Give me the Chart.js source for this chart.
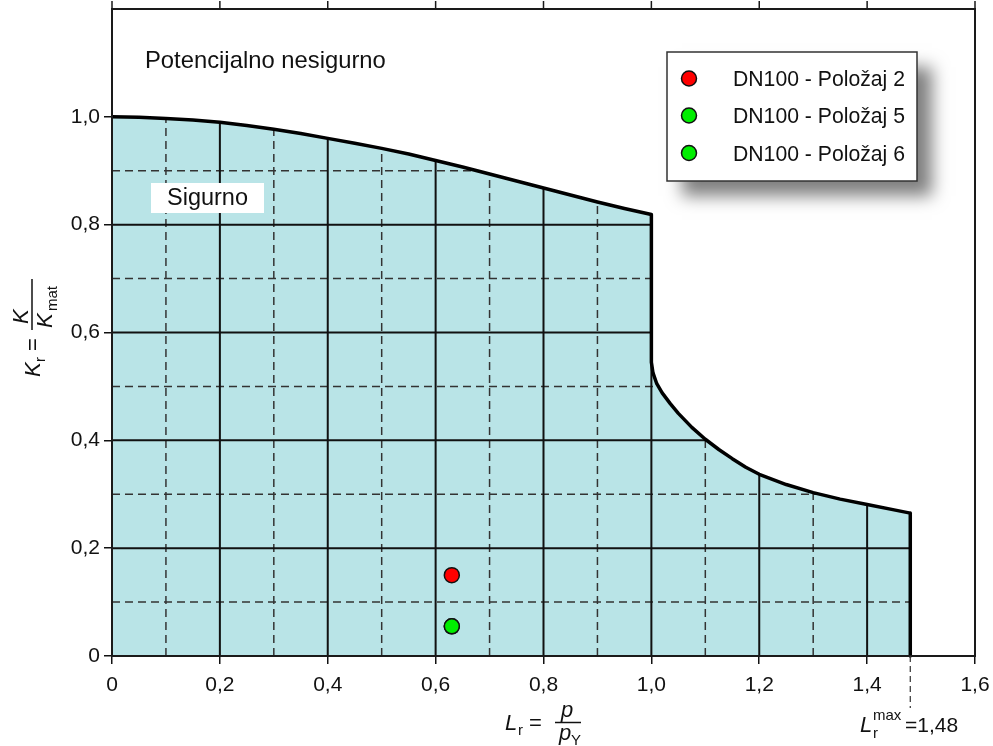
<!DOCTYPE html>
<html>
<head>
<meta charset="utf-8">
<script src="https://cdn.jsdelivr.net/npm/chart.js@4/dist/chart.umd.min.js"></script>
<style>
  html, body { margin: 0; padding: 0; background: #ffffff; }
  #wrap { width: 993px; height: 746px; position: relative; }
</style>
</head>
<body>
<div id="wrap"><canvas id="c" width="993" height="746"></canvas></div>
<script>
// ---- Data ----
const curveLr = [0, 0.05, 0.1, 0.15, 0.2, 0.25, 0.3, 0.35, 0.4, 0.45, 0.5, 0.55, 0.6, 0.65, 0.7, 0.75, 0.8, 0.85, 0.9, 0.95, 1.0,
                 1.0, 1.003, 1.01, 1.02, 1.035, 1.05, 1.075, 1.1, 1.125, 1.15, 1.175, 1.2, 1.25, 1.3, 1.35, 1.4, 1.45, 1.48, 1.48];
const curveKr = [1.0, 0.999, 0.997, 0.994, 0.990, 0.984, 0.977, 0.969, 0.960, 0.951, 0.9415, 0.931, 0.919, 0.907, 0.894, 0.881, 0.868, 0.855, 0.842, 0.830, 0.819,
                 0.545, 0.525, 0.505, 0.488, 0.468, 0.450, 0.424, 0.402, 0.383, 0.366, 0.350, 0.337, 0.318, 0.303, 0.291, 0.281, 0.271, 0.265, 0];

const seriesNames = ['DN100 - Položaj 2', 'DN100 - Položaj 5', 'DN100 - Položaj 6'];
const seriesLr = [0.63, 0.63, 0.63];
const seriesKr = [0.15, 0.055, 0.055];
const seriesColors = ['#ff0000', '#00ee00', '#00ee00'];

const xTicks = [0, 0.2, 0.4, 0.6, 0.8, 1.0, 1.2, 1.4, 1.6];
const yTicks = [0, 0.2, 0.4, 0.6, 0.8, 1.0];
const majorLr = [0.2, 0.4, 0.6, 0.8, 1.0, 1.2, 1.4];
const minorLr = [0.1, 0.3, 0.5, 0.7, 0.9, 1.1, 1.3, 1.5];
const majorKr = [0.2, 0.4, 0.6, 0.8, 1.0];
const minorKr = [0.1, 0.3, 0.5, 0.7, 0.9];
const LrMax = 1.48;

const FONT = "'Liberation Sans', Arial, Helvetica, sans-serif";
const fillColor = '#b9e4e7';
const fmt = (v, d = 1) => (Math.abs(v) < 1e-9 ? '0' : v.toFixed(d).replace('.', ','));

const fadPlugin = {
  id: 'fad',
  beforeDatasetsDraw(chart) {
    const { ctx, scales: { x, y }, chartArea: a } = chart;
    const pts = chart.getDatasetMeta(0).data;
    ctx.save();
    ctx.beginPath();
    ctx.moveTo(x.getPixelForValue(0), y.getPixelForValue(0));
    pts.forEach(p => ctx.lineTo(p.x, p.y));
    ctx.closePath();
    ctx.fillStyle = fillColor;
    ctx.fill();
    ctx.clip();
    ctx.strokeStyle = '#333';
    ctx.lineWidth = 1.5;
    ctx.setLineDash([8, 5]);
    minorLr.forEach(v => { const px = x.getPixelForValue(v); ctx.beginPath(); ctx.moveTo(px, a.bottom); ctx.lineTo(px, a.top); ctx.stroke(); });
    minorKr.forEach(v => { const py = y.getPixelForValue(v); ctx.beginPath(); ctx.moveTo(a.left, py); ctx.lineTo(a.right, py); ctx.stroke(); });
    ctx.setLineDash([]);
    ctx.strokeStyle = '#111';
    ctx.lineWidth = 2;
    majorLr.forEach(v => { const px = x.getPixelForValue(v); ctx.beginPath(); ctx.moveTo(px, a.top); ctx.lineTo(px, a.bottom); ctx.stroke(); });
    majorKr.forEach(v => { const py = y.getPixelForValue(v); ctx.beginPath(); ctx.moveTo(a.left, py); ctx.lineTo(a.right, py); ctx.stroke(); });
    ctx.restore();
  },
  afterDraw(chart) {
    const { ctx, scales: { x, y }, chartArea: a } = chart;
    ctx.save();
    ctx.strokeStyle = '#1a1a1a';
    ctx.lineWidth = 2;
    ctx.strokeRect(a.left, a.top, a.right - a.left, a.bottom - a.top);
    ctx.lineWidth = 1.5;
    xTicks.forEach(v => { const px = x.getPixelForValue(v); ctx.beginPath(); ctx.moveTo(px, a.top); ctx.lineTo(px, a.top - 8); ctx.stroke(); });

    ctx.fillStyle = '#111';
    ctx.textBaseline = 'alphabetic';
    ctx.textAlign = 'left';
    ctx.font = '23.8px ' + FONT;
    ctx.fillText('Potencijalno nesigurno', 145, 68);
    ctx.fillStyle = '#ffffff';
    ctx.fillRect(151, 183, 113, 30);
    ctx.fillStyle = '#111';
    ctx.font = '23.5px ' + FONT;
    ctx.fillText('Sigurno', 167, 205);

    ctx.save();
    ctx.shadowColor = 'rgba(0,0,0,0.5)';
    ctx.shadowBlur = 16;
    ctx.shadowOffsetX = 15;
    ctx.shadowOffsetY = 15;
    ctx.fillStyle = '#ffffff';
    ctx.fillRect(667, 52, 250, 129);
    ctx.restore();
    ctx.strokeStyle = '#333';
    ctx.lineWidth = 1.5;
    ctx.strokeRect(667, 52, 250, 129);
    const rowY = [78.5, 115.5, 153];
    chart.data.datasets.slice(1).forEach((ds, i) => {
      ctx.beginPath();
      ctx.arc(689, rowY[i], 7.5, 0, Math.PI * 2);
      ctx.fillStyle = ds.backgroundColor;
      ctx.fill();
      ctx.lineWidth = 1.5;
      ctx.strokeStyle = '#111';
      ctx.stroke();
      ctx.fillStyle = '#111';
      ctx.font = '21.2px ' + FONT;
      ctx.fillText(ds.label, 733, rowY[i] + 7.7);
    });

    // x-axis title
    ctx.fillStyle = '#111';
    ctx.font = 'italic 22px ' + FONT;
    ctx.fillText('L', 505, 730);
    ctx.font = '15px ' + FONT;
    ctx.fillText('r', 518, 735);
    ctx.font = '22px ' + FONT;
    ctx.fillText('=', 529, 730);
    ctx.lineWidth = 1.5;
    ctx.strokeStyle = '#111';
    ctx.beginPath(); ctx.moveTo(555, 722.5); ctx.lineTo(581, 722.5); ctx.stroke();
    ctx.font = 'italic 22px ' + FONT;
    ctx.textAlign = 'center';
    ctx.fillText('p', 567, 717);
    ctx.textAlign = 'left';
    ctx.fillText('p', 559, 740);
    ctx.font = '15px ' + FONT;
    ctx.fillText('Y', 571, 745);

    // y-axis title (rotated)
    ctx.save();
    ctx.translate(0, 400);
    ctx.rotate(-Math.PI / 2);
    ctx.font = 'italic 22px ' + FONT;
    ctx.fillText('K', 23, 40);
    ctx.font = '15px ' + FONT;
    ctx.fillText('r', 38, 45);
    ctx.font = '22px ' + FONT;
    ctx.fillText('=', 49, 40);
    ctx.beginPath(); ctx.moveTo(70, 32); ctx.lineTo(121, 32); ctx.stroke();
    ctx.font = 'italic 22px ' + FONT;
    ctx.fillText('K', 76, 28);
    ctx.fillText('K', 72, 52);
    ctx.font = '15px ' + FONT;
    ctx.fillText('mat', 89, 57);
    ctx.restore();

    // L_r^max marker
    const pxMax = x.getPixelForValue(LrMax);
    ctx.strokeStyle = '#333';
    ctx.lineWidth = 1.2;
    ctx.setLineDash([6, 4]);
    ctx.beginPath(); ctx.moveTo(pxMax, a.bottom); ctx.lineTo(pxMax, 708); ctx.stroke();
    ctx.setLineDash([]);
    ctx.fillStyle = '#111';
    ctx.font = 'italic 22px ' + FONT;
    ctx.fillText('L', 860, 732);
    ctx.font = '15px ' + FONT;
    ctx.fillText('r', 873, 738);
    ctx.fillText('max', 873, 720);
    ctx.font = '21px ' + FONT;
    ctx.fillText('=' + fmt(LrMax, 2), 905, 732);
    ctx.restore();
  }
};

const ds = [{
  type: 'line',
  label: 'FAD',
  data: curveLr.map((v, i) => ({ x: v, y: curveKr[i] })),
  borderColor: '#000',
  borderWidth: 3.5,
  pointRadius: 0,
  tension: 0,
  fill: false,
  borderJoinStyle: 'round',
  clip: false,
  order: 5
}];
seriesNames.forEach((n, i) => ds.push({
  type: 'scatter',
  label: n,
  data: [{ x: seriesLr[i], y: seriesKr[i] }],
  backgroundColor: seriesColors[i],
  borderColor: '#111',
  borderWidth: 1.5,
  pointRadius: 7.5,
  order: 1
}));

const zeroPad = s => { s.paddingTop = 0; s.paddingBottom = 0; s.paddingLeft = 0; s.paddingRight = 0; };

new Chart(document.getElementById('c'), {
  type: 'scatter',
  data: { datasets: ds },
  options: {
    responsive: false,
    animation: false,
    devicePixelRatio: 1,
    layout: { padding: { left: 0, right: 18, top: 8, bottom: 0 } },
    plugins: { legend: { display: false }, tooltip: { enabled: false } },
    scales: {
      x: {
        type: 'linear', min: 0, max: 1.6,
        afterBuildTicks: s => { s.ticks = xTicks.map(v => ({ value: v })); },
        afterFit: s => { s.height = 90; zeroPad(s); },
        ticks: { callback: v => fmt(v), font: { family: FONT, size: 21 }, color: '#111', padding: 9, maxRotation: 0 },
        grid: { drawOnChartArea: false, drawTicks: true, tickLength: 8, color: '#111', lineWidth: 1.5 },
        border: { display: false }
      },
      y: {
        type: 'linear', min: 0, max: 1.2,
        afterBuildTicks: s => { s.ticks = yTicks.map(v => ({ value: v })); },
        afterFit: s => { s.width = 112; zeroPad(s); },
        ticks: { callback: v => fmt(v), font: { family: FONT, size: 21 }, color: '#111', padding: 4 },
        grid: { drawOnChartArea: false, drawTicks: true, tickLength: 8, color: '#111', lineWidth: 1.5 },
        border: { display: false }
      }
    }
  },
  plugins: [fadPlugin]
});
</script>
</body>
</html>
